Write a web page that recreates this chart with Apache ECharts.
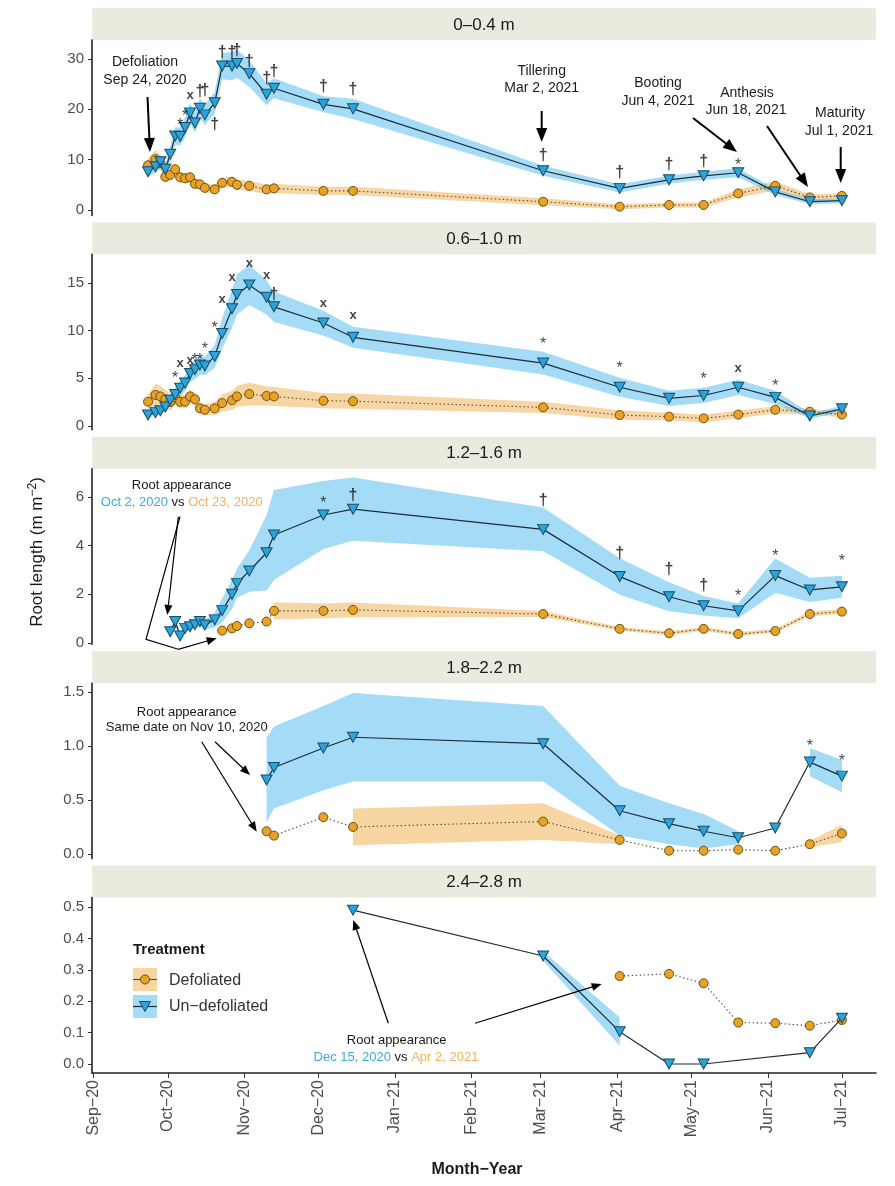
<!DOCTYPE html>
<html><head><meta charset="utf-8">
<script src="https://cdn.jsdelivr.net/npm/echarts@6/dist/echarts.min.js"></script>
<style>html,body{margin:0;padding:0;background:#fff}#c{width:895px;height:1186px}</style>
</head><body><div id="c"></div>
<script>
const N = null;
// sampling dates (shared by all panels)
const dates = ['2020-09-23','2020-09-26','2020-09-28','2020-09-30','2020-10-02','2020-10-04','2020-10-06','2020-10-08','2020-10-10','2020-10-12','2020-10-14','2020-10-16','2020-10-20','2020-10-23','2020-10-27','2020-10-29','2020-11-03','2020-11-10','2020-11-13','2020-12-03','2020-12-15','2021-03-02','2021-04-02','2021-04-22','2021-05-06','2021-05-20','2021-06-04','2021-06-18','2021-07-01'];
const depthLabels = ['0–0.4 m','0.6–1.0 m','1.2–1.6 m','1.8–2.2 m','2.4–2.8 m'];
const monthTicks = ['2020-09-01','2020-10-01','2020-11-01','2020-12-01','2021-01-01','2021-02-01','2021-03-01','2021-04-01','2021-05-01','2021-06-01','2021-07-01'];
const monthLabels = ['Sep−20','Oct−20','Nov−20','Dec−20','Jan−21','Feb−21','Mar−21','Apr−21','May−21','Jun−21','Jul−21'];

// y tick values / labels per panel
const yTicks1 = [0,10,20,30];          const yTickLabels1 = ['0','10','20','30'];
const yTicks2 = [0,5,10,15];           const yTickLabels2 = ['0','5','10','15'];
const yTicks3 = [0,2,4,6];             const yTickLabels3 = ['0','2','4','6'];
const yTicks4 = [0,0.5,1,1.5];         const yTickLabels4 = ['0.0','0.5','1.0','1.5'];
const yTicks5 = [0,0.1,0.2,0.3,0.4,0.5]; const yTickLabels5 = ['0.0','0.1','0.2','0.3','0.4','0.5'];

// Panel 1: 0–0.4 m
const undef1   = [7.6,8.6,9.6,8.1,11.1,14.7,14.6,16.4,19.3,17.3,20.2,18.9,21.3,28.6,28.6,29.1,27.1,23.0,24.2,21.0,20.1,7.8,4.3,6.0,6.8,7.4,3.6,1.65,1.85];
const undefSe1 = [1.0,1.2,1.3,1.3,1.5,1.8,1.8,2.0,2.0,2.0,2.0,2.0,2.2,2.6,2.8,2.8,2.6,2.2,2.0,1.6,2.0,1.0,0.8,0.8,0.8,0.9,0.6,0.5,0.5];
const defol1   = [8.9,10.1,9.3,6.6,7.0,8.1,6.5,6.3,6.5,5.2,5.1,4.4,4.1,5.4,5.6,5.0,4.8,4.1,4.3,3.8,3.8,1.65,0.66,1.0,1.0,3.3,4.8,2.5,2.8];
const defolSe1 = [1.5,1.8,1.5,1.2,1.2,1.2,1.0,1.0,1.0,0.9,0.9,0.9,0.9,1.0,1.0,1.0,1.0,0.9,0.9,0.8,0.8,0.7,0.5,0.5,0.5,0.8,0.9,0.6,0.6];
const sig1     = ['','','','','','','*','*','x','','†','†','†','†','†','†','†','†','†','†','†','†','†','†','†','*','','',''];
const sigY1    = [N,N,N,N,N,N,17.5,19.3,22.5,N,23.7,24.0,17.2,31.45,31.45,31.9,29.7,26.4,27.7,24.8,24.2,11.1,7.6,9.3,9.9,9.6,N,N,N];

// Panel 2: 0.6–1.0 m
const undef2   = [1.15,1.4,1.6,2.0,2.7,3.3,3.95,4.5,5.5,5.9,6.4,6.3,7.3,9.7,12.3,13.8,14.8,13.5,12.5,10.8,9.3,6.6,4.06,2.9,3.2,4.06,3.0,1.05,1.8];
const undefSe2 = [0.3,0.3,0.4,0.5,0.6,0.7,0.8,0.8,0.9,1.0,1.0,1.0,1.2,1.6,2.0,2.1,2.1,1.8,1.6,1.3,1.1,1.2,1.0,0.8,0.8,0.8,0.7,0.3,0.3];
const defol2   = [2.55,3.25,3.1,2.8,2.5,3.0,2.55,2.55,3.1,2.8,1.85,1.7,1.85,2.4,2.7,3.1,3.35,3.15,3.1,2.65,2.6,1.95,1.15,0.98,0.8,1.2,1.7,1.5,1.2];
const defolSe2 = [0.8,1.2,1.1,1.0,0.9,0.8,0.7,0.7,0.7,0.7,0.6,0.6,0.7,0.9,1.0,1.1,1.2,1.0,1.0,0.8,0.8,0.6,0.5,0.4,0.4,0.4,0.4,0.3,0.3];
const sig2     = ['','','','','','*','x','','x','*','*','*','*','x','x','','x','x','†','x','x','*','*','','*','x','*','',''];
const sigY2    = [N,N,N,N,N,5.35,6.5,N,6.75,7.27,7.27,8.4,10.6,13.2,15.5,N,16.9,15.7,13.9,12.8,11.5,8.95,6.4,N,5.25,5.9,4.6,N,N];

// Panel 3: 1.2–1.6 m
const undef3   = [N,N,N,N,0.46,0.88,0.29,0.6,0.67,0.75,0.88,0.74,0.95,1.33,2.0,2.45,2.96,3.71,4.44,5.26,5.5,4.67,2.73,1.9,1.53,1.32,2.77,2.18,2.31];
const undefSe3 = [N,N,N,N,0.15,0.15,0.15,0.15,0.15,0.15,0.2,0.2,0.3,0.5,0.6,0.6,0.85,1.55,1.85,1.4,1.3,0.9,0.75,0.6,0.4,0.3,0.7,0.5,0.45];
const defol3   = [N,N,N,N,N,N,N,N,N,N,N,N,N,0.51,0.6,0.7,0.81,0.88,1.32,1.32,1.36,1.19,0.58,0.4,0.58,0.37,0.49,1.19,1.29];
const defolSe3 = [N,N,N,N,N,N,N,N,N,N,N,N,N,N,N,N,N,N,0.35,0.3,0.3,0.12,0.08,0.08,0.08,0.08,0.08,0.1,0.1];
const sig3     = ['','','','','','','','','','','','','','','','','','','','*','†','†','†','†','†','*','*','','*'];
const sigY3    = [N,N,N,N,N,N,N,N,N,N,N,N,N,N,N,N,N,N,N,5.88,6.08,5.88,3.7,3.04,2.38,2.06,3.71,N,3.49];

// Panel 4: 1.8–2.2 m
const undef4   = [N,N,N,N,N,N,N,N,N,N,N,N,N,N,N,N,N,0.685,0.80,0.98,1.08,1.02,0.40,0.28,0.21,0.15,0.24,0.85,0.72];
const undefSe4 = [N,N,N,N,N,N,N,N,N,N,N,N,N,N,N,N,N,0.39,0.38,0.39,0.41,0.35,0.23,0.19,0.16,0.06,N,0.13,0.15];
const defol4   = [N,N,N,N,N,N,N,N,N,N,N,N,N,N,N,N,N,0.21,0.17,0.34,0.25,0.3,0.13,0.03,0.03,0.04,0.03,0.09,0.19];
const defolSe4 = [N,N,N,N,N,N,N,N,N,N,N,N,N,N,N,N,N,N,N,N,0.17,0.17,0.04,N,N,N,N,0.03,0.08];
const sig4     = ['','','','','','','','','','','','','','','','','','','','','','','','','','','','*','*'];
const sigY4    = [N,N,N,N,N,N,N,N,N,N,N,N,N,N,N,N,N,N,N,N,N,N,N,N,N,N,N,1.03,0.89];

// Panel 5: 2.4–2.8 m
const undef5   = [N,N,N,N,N,N,N,N,N,N,N,N,N,N,N,N,N,N,N,N,0.49,0.344,0.103,0.0,0.0,N,N,0.036,0.146];
const undefSe5 = [N,N,N,N,N,N,N,N,N,N,N,N,N,N,N,N,N,N,N,N,N,0.015,0.045,N,N,N,N,N,N];
const defol5   = [N,N,N,N,N,N,N,N,N,N,N,N,N,N,N,N,N,N,N,N,N,N,0.28,0.287,0.257,0.132,0.13,0.122,0.14];
const defolSe5 = [N,N,N,N,N,N,N,N,N,N,N,N,N,N,N,N,N,N,N,N,N,N,N,N,N,N,N,N,N];
const sig5     = dates.map(() => '');
const sigY5    = dates.map(() => N);

const FONT = '"Liberation Sans", Arial, Helvetica, sans-serif';
function day(s){const p=s.split('-').map(Number);return (Date.UTC(p[0],p[1]-1,p[2])-Date.UTC(2020,8,1))/864e5;}
const X = dates.map(day);
const monthDays = monthTicks.map(day);

const panels = [
  {und:undef1,undSe:undefSe1,def:defol1,defSe:defolSe1,sig:sig1,sigY:sigY1,ticks:yTicks1,labels:yTickLabels1,range:[-1.07,33.78]},
  {und:undef2,undSe:undefSe2,def:defol2,defSe:defolSe2,sig:sig2,sigY:sigY2,ticks:yTicks2,labels:yTickLabels2,range:[-0.40,18.0]},
  {und:undef3,undSe:undefSe3,def:defol3,defSe:defolSe3,sig:sig3,sigY:sigY3,ticks:yTicks3,labels:yTickLabels3,range:[-0.05,7.16]},
  {und:undef4,undSe:undefSe4,def:defol4,defSe:defolSe4,sig:sig4,sigY:sigY4,ticks:yTicks4,labels:yTickLabels4,range:[-0.043,1.58]},
  {und:undef5,undSe:undefSe5,def:defol5,defSe:defolSe5,sig:sig5,sigY:sigY5,ticks:yTicks5,labels:yTickLabels5,range:[-0.0287,0.53]}
];

const GL = 92, GW = 784, PH = 175.4, STRIP = 32;
const PT = [40, 254.4, 468.8, 683.2, 897.6];

const BLUE_BAND = 'rgba(90,190,240,0.55)';
const ORANGE_BAND = 'rgba(243,180,90,0.55)';

function runsOf(vals, se){
  const runs=[]; let cur=[];
  for(let i=0;i<vals.length;i++){
    if(vals[i]!=null && se[i]!=null){cur.push([X[i],vals[i]-se[i],vals[i]+se[i]]);}
    else { if(cur.length>1) runs.push(cur); cur=[]; }
  }
  if(cur.length>1) runs.push(cur);
  return runs;
}
function bandSeries(k, vals, se, color, z){
  const runs = runsOf(vals, se);
  return {type:'custom', xAxisIndex:k, yAxisIndex:k, z:z, silent:true, clip:true,
    data: runs.map(r => [r[0][0], r[0][1]]),
    renderItem: function(params, api){
      const run = runs[params.dataIndex];
      const up = run.map(p => api.coord([p[0], p[2]]));
      const dn = run.map(p => api.coord([p[0], p[1]])).reverse();
      return {type:'polygon', shape:{points: up.concat(dn)}, style:{fill: color}};
    }};
}
function lineSeries(k, vals, kind){
  const data=[]; vals.forEach((v,i)=>{ if(v!=null) data.push([X[i], v]); });
  if(kind==='u') return {type:'line', name:'Un−defoliated', xAxisIndex:k, yAxisIndex:k, data, z:4, silent:true, clip:false,
    symbol:'triangle', symbolRotate:180, symbolSize:[11,10], showAllSymbol:true,
    itemStyle:{color:'#29A5DC', borderColor:'#1C4A66', borderWidth:1},
    lineStyle:{color:'#1d2b36', width:1.2}};
  return {type:'line', name:'Defoliated', xAxisIndex:k, yAxisIndex:k, data, z:3, silent:true, clip:false,
    symbol:'circle', symbolSize:9, showAllSymbol:true,
    itemStyle:{color:'#E9A225', borderColor:'#6e4f10', borderWidth:1},
    lineStyle:{color:'#5b4b3b', width:1.1, type:[1.5,2.5]}};
}
const SYM_OFFSET = {'*':[0,4], '†':[0,1], 'x':[0,-1]};
function sigSeries(k, sig, sigY){
  const data=[];
  sig.forEach((s,i)=>{ if(s && sigY[i]!=null) data.push({value:[X[i], sigY[i]], sym:s, label:{offset:SYM_OFFSET[s]}}); });
  return {type:'scatter', xAxisIndex:k, yAxisIndex:k, z:6, silent:true, symbolSize:1,
    itemStyle:{color:'rgba(0,0,0,0)'}, data,
    label:{show:true, position:'inside',
      formatter: p => p.data.sym==='†' ? '{d|†}' : (p.data.sym==='*' ? '{s|*}' : '{x|x}'),
      rich:{d:{fontSize:16,fontWeight:'bold',color:'#111',fontFamily:FONT},
            s:{fontSize:16,color:'#111',fontFamily:FONT},
            x:{fontSize:13,fontWeight:'bold',color:'#111',fontFamily:FONT}}}};
}

const grid=[], xAxis=[], yAxis=[], series=[];
panels.forEach((P,k)=>{
  grid.push({left:GL, width:GW, top:PT[k], height:PH, outerBoundsMode:'none'});
  const bottom = k===4;
  xAxis.push({type:'value', gridIndex:k, min:-0.7, max:316.8, splitLine:{show:false},
    axisLine:{show:bottom, onZero:false, lineStyle:{color:'#222', width:1.6}},
    axisTick:{show:bottom, customValues:monthDays, length:5, lineStyle:{color:'#333', width:1}},
    axisLabel:{show:bottom, customValues:monthDays, rotate:90, margin:7, fontSize:16, color:'#4d4d4d', fontFamily:FONT,
      formatter: v => monthLabels[monthDays.indexOf(v)] || ''}});
  yAxis.push({type:'value', gridIndex:k, min:P.range[0], max:P.range[1], splitLine:{show:false},
    axisLine:{show:true, onZero:false, lineStyle:{color:'#222', width:1.6}},
    axisTick:{show:true, customValues:P.ticks, length:4, lineStyle:{color:'#333', width:1}},
    axisLabel:{customValues:P.ticks, margin:8, fontSize:15, color:'#4d4d4d', fontFamily:FONT,
      formatter: v => P.labels[P.ticks.indexOf(v)] || ''}});
  series.push(bandSeries(k, P.def, P.defSe, ORANGE_BAND, 1));
  series.push(bandSeries(k, P.und, P.undSe, BLUE_BAND, 2));
  series.push(lineSeries(k, P.def, 'd'));
  series.push(lineSeries(k, P.und, 'u'));
  series.push(sigSeries(k, P.sig, P.sigY));
});

// ---- graphics: strips, annotations, legend, titles
const G = [];
PT.forEach((t,k)=>{
  G.push({type:'rect', z:0, shape:{x:GL, y:t-STRIP, width:GW, height:STRIP}, style:{fill:'#EBEADF'}});
  G.push({type:'text', z:1, x:GL+GW/2, y:t-STRIP/2+1, style:{text:depthLabels[k], font:'17px '+FONT, fill:'#1a1a1a', align:'center', verticalAlign:'middle'}});
});
function txt(x,y,s,size,extra){ G.push(Object.assign({type:'text', z:50, x, y, style:Object.assign({text:s, font:size+'px '+FONT, fill:'#1a1a1a', align:'center', verticalAlign:'middle'}, extra||{})})); }
function arrow(x1,y1,x2,y2,L,W,lw){
  const dx=x2-x1, dy=y2-y1, d=Math.hypot(dx,dy), ux=dx/d, uy=dy/d;
  const bx=x2-ux*L, by=y2-uy*L;
  G.push({type:'line', z:50, shape:{x1,y1,x2:bx+ux*1,y2:by+uy*1}, style:{stroke:'#000', lineWidth:lw}});
  G.push({type:'polygon', z:50, shape:{points:[[x2,y2],[bx-uy*W,by+ux*W],[bx+uy*W,by-ux*W]]}, style:{fill:'#000'}});
}
// panel 1 stage annotations
txt(145,62,'Defoliation',14); txt(145,80,'Sep 24, 2020',14);
arrow(147.5,97,150,152,14,5.5,2);
txt(541.7,71,'Tillering',14); txt(541.7,88,'Mar 2, 2021',14);
arrow(541.7,111,541.7,142,14,5.5,2);
txt(658,83,'Booting',14); txt(658,101,'Jun 4, 2021',14);
arrow(693,118,737,152,14,5.5,2);
txt(747,93,'Anthesis',14); txt(746,110,'Jun 18, 2021',14);
arrow(767,126,808,187,14,5.5,2);
txt(840,113,'Maturity',14); txt(839,131,'Jul 1, 2021',14);
arrow(840.7,147,840.7,183,14,5.5,2);
// panel 3
const richBO = {b:{fill:'#3DA9DE', font:'13px '+FONT}, o:{fill:'#F0B25A', font:'13px '+FONT}, k:{fill:'#1a1a1a', font:'13px '+FONT}};
txt(181.7,485,'Root appearance',13);
txt(181.7,502,'{b|Oct 2, 2020}{k| vs }{o|Oct 23, 2020}',13,{rich:richBO});
arrow(178.3,516.7,167.3,615,10,4,1.2);
G.push({type:'polyline', z:50, shape:{points:[[180,516.7],[146,639.3],[178.3,649.3]]}, style:{stroke:'#000', lineWidth:1.2, fill:null}});
arrow(178.3,649.3,216.7,638.3,10,4,1.2);
// panel 4
txt(186.7,712,'Root appearance',13); txt(186.7,727,'Same date on Nov 10, 2020',13);
arrow(215,741.7,250,775,10,4,1.2);
arrow(201.7,741.7,256.7,831.7,10,4,1.2);
// panel 5
txt(396.7,1040,'Root appearance',13);
txt(396,1057,'{b|Dec 15, 2020}{k| vs }{o|Apr 2, 2021}',13,{rich:richBO});
arrow(388.3,1023.3,353.3,920,10,4,1.2);
arrow(475,1023.3,601.7,984,10,4,1.2);
// legend
G.push({type:'text', z:50, x:133, y:950, style:{text:'Treatment', font:'bold 15px '+FONT, fill:'#1a1a1a', align:'left', verticalAlign:'middle'}});
G.push({type:'rect', z:50, shape:{x:133,y:968,width:24,height:23}, style:{fill:ORANGE_BAND}});
G.push({type:'line', z:51, shape:{x1:133,y1:979.5,x2:157,y2:979.5}, style:{stroke:'#5b4b3b', lineWidth:1.1}});
G.push({type:'circle', z:52, shape:{cx:145,cy:979.5,r:4.5}, style:{fill:'#E9A225', stroke:'#6e4f10', lineWidth:1}});
G.push({type:'rect', z:50, shape:{x:133,y:995,width:24,height:23}, style:{fill:BLUE_BAND}});
G.push({type:'line', z:51, shape:{x1:133,y1:1006.5,x2:157,y2:1006.5}, style:{stroke:'#1d2b36', lineWidth:1.2}});
G.push({type:'polygon', z:52, shape:{points:[[139.5,1001.5],[150.5,1001.5],[145,1011.5]]}, style:{fill:'#29A5DC', stroke:'#1C4A66', lineWidth:1}});
G.push({type:'text', z:50, x:169, y:981, style:{text:'Defoliated', font:'16px '+FONT, fill:'#333', align:'left', verticalAlign:'middle'}});
G.push({type:'text', z:50, x:169, y:1007, style:{text:'Un−defoliated', font:'16px '+FONT, fill:'#333', align:'left', verticalAlign:'middle'}});
// axis titles
G.push({type:'text', z:50, x:37, y:552, rotation:Math.PI/2, style:{text:'{a|Root length (m m}{s|−2}{a|)}', align:'center', verticalAlign:'middle',
  rich:{a:{font:'17px '+FONT, fill:'#1a1a1a'}, s:{font:'12px '+FONT, fill:'#1a1a1a', padding:[0,0,8,0]}}}});
G.push({type:'text', z:50, x:477, y:1170, style:{text:'Month−Year', font:'bold 16px '+FONT, fill:'#1a1a1a', align:'center', verticalAlign:'middle'}});

const chart = echarts.init(document.getElementById('c'), null, {renderer:'canvas'});
chart.setOption({animation:false, backgroundColor:'#fff', textStyle:{fontFamily:FONT},
  grid, xAxis, yAxis, series, graphic:{elements:G}});
</script></body></html>
